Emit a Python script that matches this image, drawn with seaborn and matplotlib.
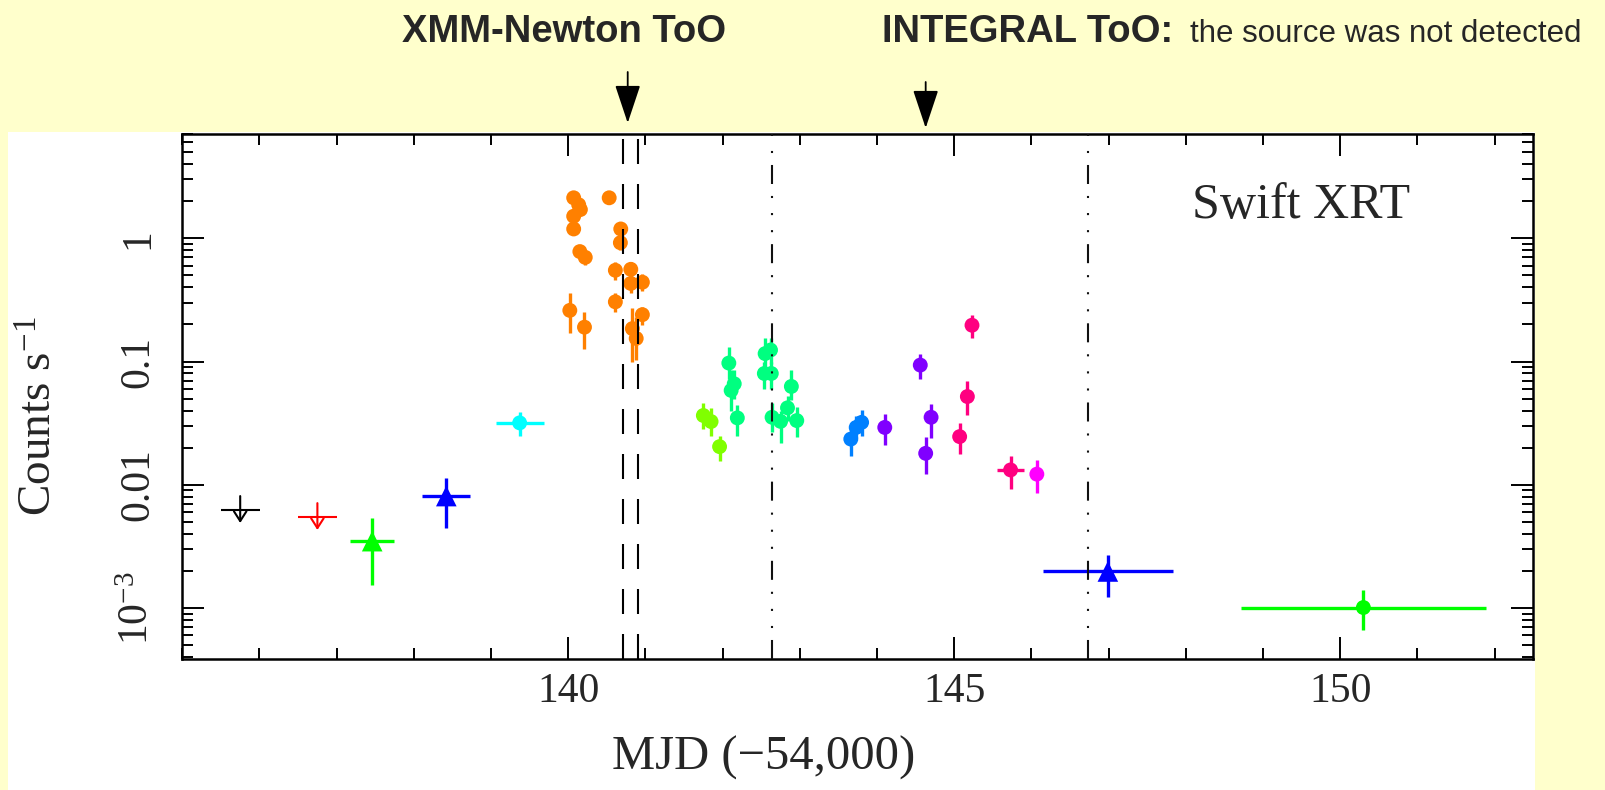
import numpy as np
import pandas as pd
import matplotlib
matplotlib.use("Agg")
import matplotlib.pyplot as plt
import seaborn as sns
from matplotlib.patches import Rectangle
from matplotlib.ticker import LogLocator, NullFormatter, MultipleLocator

# ---------------- data ----------------
seg_names = ["ul1", "ul2", "tri1", "tri2", "cyan", "orange", "chartreuse",
             "spring", "azure", "violet", "rose", "magenta", "tri3", "wide"]
seg_colors = ["#000000", "#FF0000", "#00FF00", "#0000FF", "#00FFFF", "#FF8000",
              "#80FF00", "#00FF80", "#0080FF", "#8000FF", "#FF0080", "#FF00FF",
              "#0000FF", "#00FF00"]
seg_marker = ["none", "none", "^", "^", "o", "o", "o", "o", "o", "o", "o", "o", "^", "o"]
upper_limit_segs = ["ul1", "ul2"]

mjd = [135.75, 136.75, 137.46, 138.42, 139.37,
       140.07, 140.135, 140.157, 140.07, 140.07, 140.15, 140.22, 140.53, 140.68, 140.675,
       140.61, 140.81, 140.81, 140.96, 140.61, 140.02, 140.21, 140.96, 140.83, 140.88,
       141.75, 141.85, 141.96,
       142.08, 142.15, 142.11, 142.19, 142.55, 142.62, 142.54, 142.63, 142.64, 142.75,
       142.89, 142.84, 142.96,
       143.66, 143.73, 143.80,
       144.10, 144.56, 144.70, 144.63,
       145.23, 145.17, 145.07, 145.73,
       146.07,
       146.99, 150.30]
rate = [0.00624, 0.00547, 0.00349, 0.0081, 0.0318,
        2.13, 1.87, 1.71, 1.51, 1.19, 0.78, 0.70, 2.13, 1.19, 0.92,
        0.55, 0.56, 0.43, 0.44, 0.305, 0.26, 0.19, 0.24, 0.185, 0.154,
        0.0365, 0.0326, 0.0204,
        0.0972, 0.066, 0.0583, 0.0349, 0.116, 0.124, 0.080, 0.080, 0.0353, 0.0327,
        0.0628, 0.0421, 0.0332,
        0.0235, 0.0292, 0.0321,
        0.0292, 0.0936, 0.0353, 0.018,
        0.197, 0.052, 0.0246, 0.0132,
        0.0122,
        0.00198, 0.00101]
rate_lo = [0.0049, 0.0043, 0.00155, 0.0045, 0.025,
           1.95, 1.70, 1.55, 1.36, 1.06, 0.69, 0.61, 1.95, 1.06, 0.81,
           0.46, 0.48, 0.36, 0.37, 0.25, 0.17, 0.127, 0.197, 0.099, 0.102,
           0.0284, 0.025, 0.0157,
           0.0725, 0.050, 0.040, 0.025, 0.090, 0.095, 0.060, 0.060, 0.027, 0.022,
           0.0487, 0.033, 0.0242,
           0.0172, 0.024, 0.025,
           0.0212, 0.0726, 0.0241, 0.0122,
           0.154, 0.0365, 0.0177, 0.0092,
           0.0086,
           0.00122, 0.00066]
rate_hi = [0.0081, 0.0071, 0.00534, 0.0114, 0.0388,
           2.31, 2.04, 1.87, 1.66, 1.32, 0.87, 0.79, 2.31, 1.32, 1.03,
           0.64, 0.64, 0.50, 0.51, 0.36, 0.36, 0.253, 0.278, 0.27, 0.231,
           0.0458, 0.042, 0.0249,
           0.131, 0.085, 0.0848, 0.044, 0.154, 0.155, 0.100, 0.100, 0.046, 0.040,
           0.0848, 0.053, 0.0428,
           0.0292, 0.036, 0.0405,
           0.0376, 0.116, 0.0454, 0.0242,
           0.238, 0.069, 0.0316, 0.0172,
           0.016,
           0.00268, 0.00139]
mjd_err = ([0.255, 0.25, 0.285, 0.31, 0.31] + [0.0] * 46 + [0.17] + [0.0] + [0.84, 1.59])
segment = (["ul1", "ul2", "tri1", "tri2", "cyan"] + ["orange"] * 20 + ["chartreuse"] * 3 +
           ["spring"] * 13 + ["azure"] * 3 + ["violet"] * 4 + ["rose"] * 4 + ["magenta"] +
           ["tri3", "wide"])

xmm_lines = [140.71, 140.905]
integral_lines = [142.64, 146.73]
xmm_mjd = 140.77
integral_mjd = 144.63

xtick_vals = [140, 145, 150]
xtick_labels = ["140", "145", "150"]
ytick_vals = [1e-3, 1e-2, 0.1, 1]
ytick_labels = ["10$^{-3}$", "0.01", "0.1", "1"]

# ---------------- figure ----------------
sns.set_style("ticks")
plt.rcParams["font.family"] = ["Liberation Serif", "DejaVu Serif"]
plt.rcParams["mathtext.fontset"] = "custom"
plt.rcParams["mathtext.rm"] = "Liberation Serif"
plt.rcParams["mathtext.it"] = "Liberation Serif:italic"
plt.rcParams["mathtext.bf"] = "Liberation Serif:bold"
plt.rcParams["lines.scale_dashes"] = False

W, H = 1606, 790
fig = plt.figure(figsize=(W / 100, H / 100), dpi=100, facecolor="#FFFFCC")
fig.patches.append(Rectangle((8 / W, 0), (1535 - 8) / W, (H - 132) / H,
                             transform=fig.transFigure, facecolor="white",
                             edgecolor="none", zorder=-1))
ax = fig.add_axes([182.3 / W, (H - 658.6) / H, (1533.2 - 182.3) / W, (658.6 - 133.5) / H])
ax.set_facecolor("white")

df = pd.DataFrame(dict(mjd=mjd, rate=rate, lo=rate_lo, hi=rate_hi, xerr=mjd_err, seg=segment))
palette = dict(zip(seg_names, seg_colors))
markers = dict(zip(seg_names, seg_marker))

ax.set_yscale("log")

# error bars
for name in seg_names:
    d = df[df.seg == name]
    col = palette[name]
    if name in upper_limit_segs:
        ax.errorbar(d.mjd, d.rate, xerr=d.xerr, fmt="none", ecolor=col,
                    elinewidth=1.5, capsize=0, zorder=2)
        for _, r in d.iterrows():
            ax.annotate("", xy=(r.mjd, r.lo), xytext=(r.mjd, r.hi),
                        arrowprops=dict(arrowstyle="->,head_length=7,head_width=4.5",
                                        mutation_scale=1, lw=1.5, color=col,
                                        shrinkA=0, shrinkB=0))
    else:
        ax.errorbar(d.mjd, d.rate, yerr=[d.rate - d.lo, d.hi - d.rate],
                    xerr=d.xerr, fmt="none", ecolor=col, elinewidth=2.4,
                    capsize=0, zorder=2)

det = df[~df.seg.isin(upper_limit_segs)]
circ = det[det.seg.map(markers) == "o"]
tri = det[det.seg.map(markers) == "^"]
sns.scatterplot(data=circ, x="mjd", y="rate", hue="seg", palette=palette, marker="o",
                s=115, linewidth=0, legend=False, ax=ax, zorder=3)
sns.scatterplot(data=tri, x="mjd", y="rate", hue="seg", palette=palette, marker="^",
                s=220, linewidth=0, legend=False, ax=ax, zorder=3)

# vertical event lines
for x in xmm_lines:
    ax.axvline(x, color="black", lw=1.5, dashes=(18, 14.4), zorder=4)
for x in integral_lines:
    ax.axvline(x, color="#111111", lw=1.5,
               dashes=(13.7, 8.6, 1.5, 10.8, 1.5, 10.8, 1.5, 8.6), zorder=4)

# axes
ax.set_xlim(135, 152.5)
ax.set_ylim(10 ** -3.41, 10 ** 0.85)
ax.set_xticks(xtick_vals, labels=xtick_labels)
ax.xaxis.set_minor_locator(MultipleLocator(1))
ax.set_yticks(ytick_vals, labels=ytick_labels)
ax.yaxis.set_minor_locator(LogLocator(base=10, subs=np.arange(2, 10)))
ax.yaxis.set_minor_formatter(NullFormatter())
ax.tick_params(which="both", direction="in", top=True, right=True, color="black")
ax.tick_params(which="major", length=15.5, width=1.4)
ax.tick_params(which="minor", length=8, width=1.4)
ax.tick_params(axis="x", labelsize=30, pad=10)
ax.tick_params(axis="y", labelsize=30, pad=18)
for lab in ax.get_yticklabels():
    lab.set_rotation(90)
    lab.set_va("center")
for sp in ax.spines.values():
    sp.set_linewidth(1.8)
    sp.set_color("black")

ax.set_xlabel("MJD (\u221254,000)", fontsize=35)
ax.xaxis.set_label_coords(0.43, -0.189)
ax.xaxis.label.set_va("center")
ax.set_ylabel("Counts s$^{-1}$", fontsize=34)
ax.yaxis.set_label_coords(-0.105, 0.462)
ax.yaxis.label.set_va("center")
ax.yaxis.label.set_ha("center")

ax.text(0.828, 0.862, "Swift XRT", transform=ax.transAxes, ha="center", va="center",
        fontsize=36)

# top annotations
sans = ["Liberation Sans", "DejaVu Sans"]
fig.text(564 / W, 1 - 42.5 / H, "XMM-Newton ToO", ha="center", va="baseline",
         fontsize=27.5, fontweight="bold", family=sans)
fig.text(882 / W, 1 - 42.5 / H, "INTEGRAL ToO:", ha="left", va="baseline",
         fontsize=27.5, fontweight="bold", family=sans)
fig.text(1190 / W, 1 - 42.5 / H, "the source was not detected", ha="left",
         va="baseline", fontsize=22.5, family=sans)
for xm, ytop, ytip in [(xmm_mjd, 72, 123), (integral_mjd, 82, 128)]:
    ax.annotate("", xy=(xm, H - ytip), xycoords=("data", "figure pixels"),
                xytext=(xm, H - ytop), textcoords=("data", "figure pixels"),
                arrowprops=dict(arrowstyle="-|>,head_length=24,head_width=8",
                                mutation_scale=1, lw=1.3, color="black",
                                shrinkA=0, shrinkB=0),
                annotation_clip=False)

fig.savefig("out.png", dpi=100, facecolor=fig.get_facecolor())
